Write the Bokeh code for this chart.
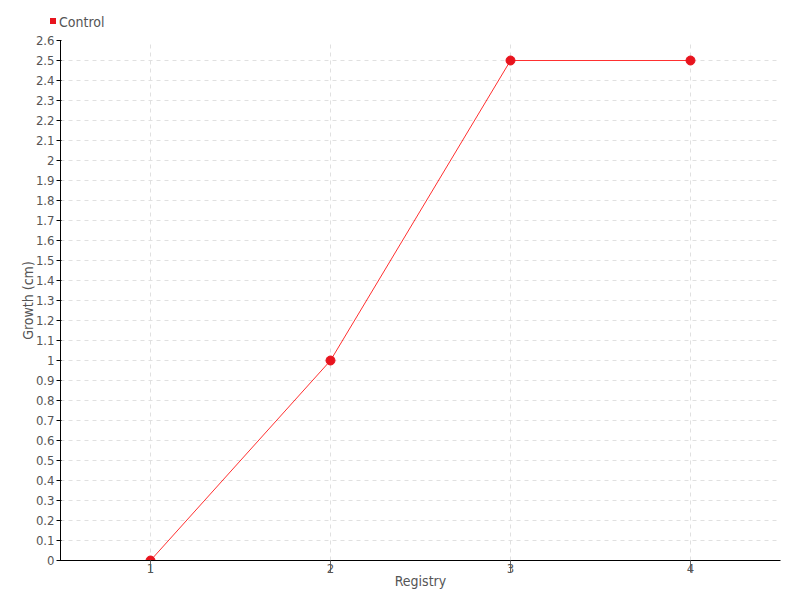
from bokeh.plotting import figure
from bokeh.models import FixedTicker, Range1d, Div
from bokeh.layouts import column
from bokeh.embed import file_html
from bokeh.resources import INLINE

# data
registry = [1, 2, 3, 4]
growth = [0, 1, 2.5, 2.5]
series_name = "Control"
x_ticks = [1, 2, 3, 4]
x_labels = ["1", "2", "3", "4"]
y_ticks = [round(i / 10, 1) for i in range(0, 27)]
y_labels = ["0", "0.1", "0.2", "0.3", "0.4", "0.5", "0.6", "0.7", "0.8", "0.9",
            "1", "1.1", "1.2", "1.3", "1.4", "1.5", "1.6", "1.7", "1.8", "1.9",
            "2", "2.1", "2.2", "2.3", "2.4", "2.5", "2.6"]

FONT = "DejaVu Sans Condensed"
TXT = "#555555"
RED = "#e8141e"

# ---- legend strip above the chart ----
legend_html = (
    f'<span style="display:inline-block;width:6px;height:6px;background:{RED};'
    f'margin-right:3px;vertical-align:middle;position:relative;top:-1px"></span>'
    f'<span style="vertical-align:middle">{series_name}</span>'
)
top = Div(text=legend_html, width=800, height=32, margin=0,
          styles={"font-family": FONT, "font-size": "14px", "color": TXT,
                  "padding-left": "50px", "padding-top": "13px",
                  "line-height": "16px", "box-sizing": "border-box"})

# ---- main chart ----
p = figure(width=800, height=568, output_backend="svg", toolbar_location=None,
           x_range=Range1d(0.5, 4.5), y_range=Range1d(0, 2.6),
           min_border_left=60, min_border_right=20, min_border_top=8, min_border_bottom=40)
p.outline_line_color = None
p.background_fill_color = "white"

line = p.line(registry, growth, line_color="#ff3030", line_width=1)
pts = p.scatter(registry, growth, size=9, fill_color=RED, line_color=RED)

p.xaxis.ticker = FixedTicker(ticks=x_ticks)
p.xaxis.major_label_overrides = dict(zip(x_ticks, x_labels))
p.yaxis.ticker = FixedTicker(ticks=y_ticks)
p.yaxis.major_label_overrides = dict(zip(y_ticks, y_labels))

for ax in (p.xaxis[0], p.yaxis[0]):
    ax.axis_line_color = "black"
    ax.axis_line_width = 1
    ax.major_label_text_font = FONT
    ax.major_label_text_color = TXT
    ax.major_label_text_font_size = "13px"
    ax.axis_label_text_font = FONT
    ax.axis_label_text_color = TXT
    ax.axis_label_text_font_size = "14px"
    ax.axis_label_text_font_style = "normal"
    ax.minor_tick_line_color = None

p.xaxis.major_tick_line_color = "#666666"
p.xaxis.major_tick_out = 12
p.xaxis.major_tick_in = 0
p.xaxis.major_label_standoff = -9
p.xaxis.axis_label = "Registry"
p.xaxis.axis_label_standoff = -3

p.yaxis.major_tick_line_color = "black"
p.yaxis.major_tick_out = 4
p.yaxis.major_tick_in = 1
p.yaxis.major_label_standoff = 2
p.yaxis.axis_label = "Growth (cm)"
p.yaxis.axis_label_standoff = -3

for g in (p.xgrid[0], p.ygrid[0]):
    g.grid_line_color = "#e0e0e0"
    g.grid_line_dash = "4 4"
    g.grid_line_width = 1
p.xgrid.ticker = FixedTicker(ticks=x_ticks)
p.ygrid.ticker = FixedTicker(ticks=y_ticks)

layout = column(top, p, spacing=0)
open("out.html", "w").write(file_html(layout, INLINE))
